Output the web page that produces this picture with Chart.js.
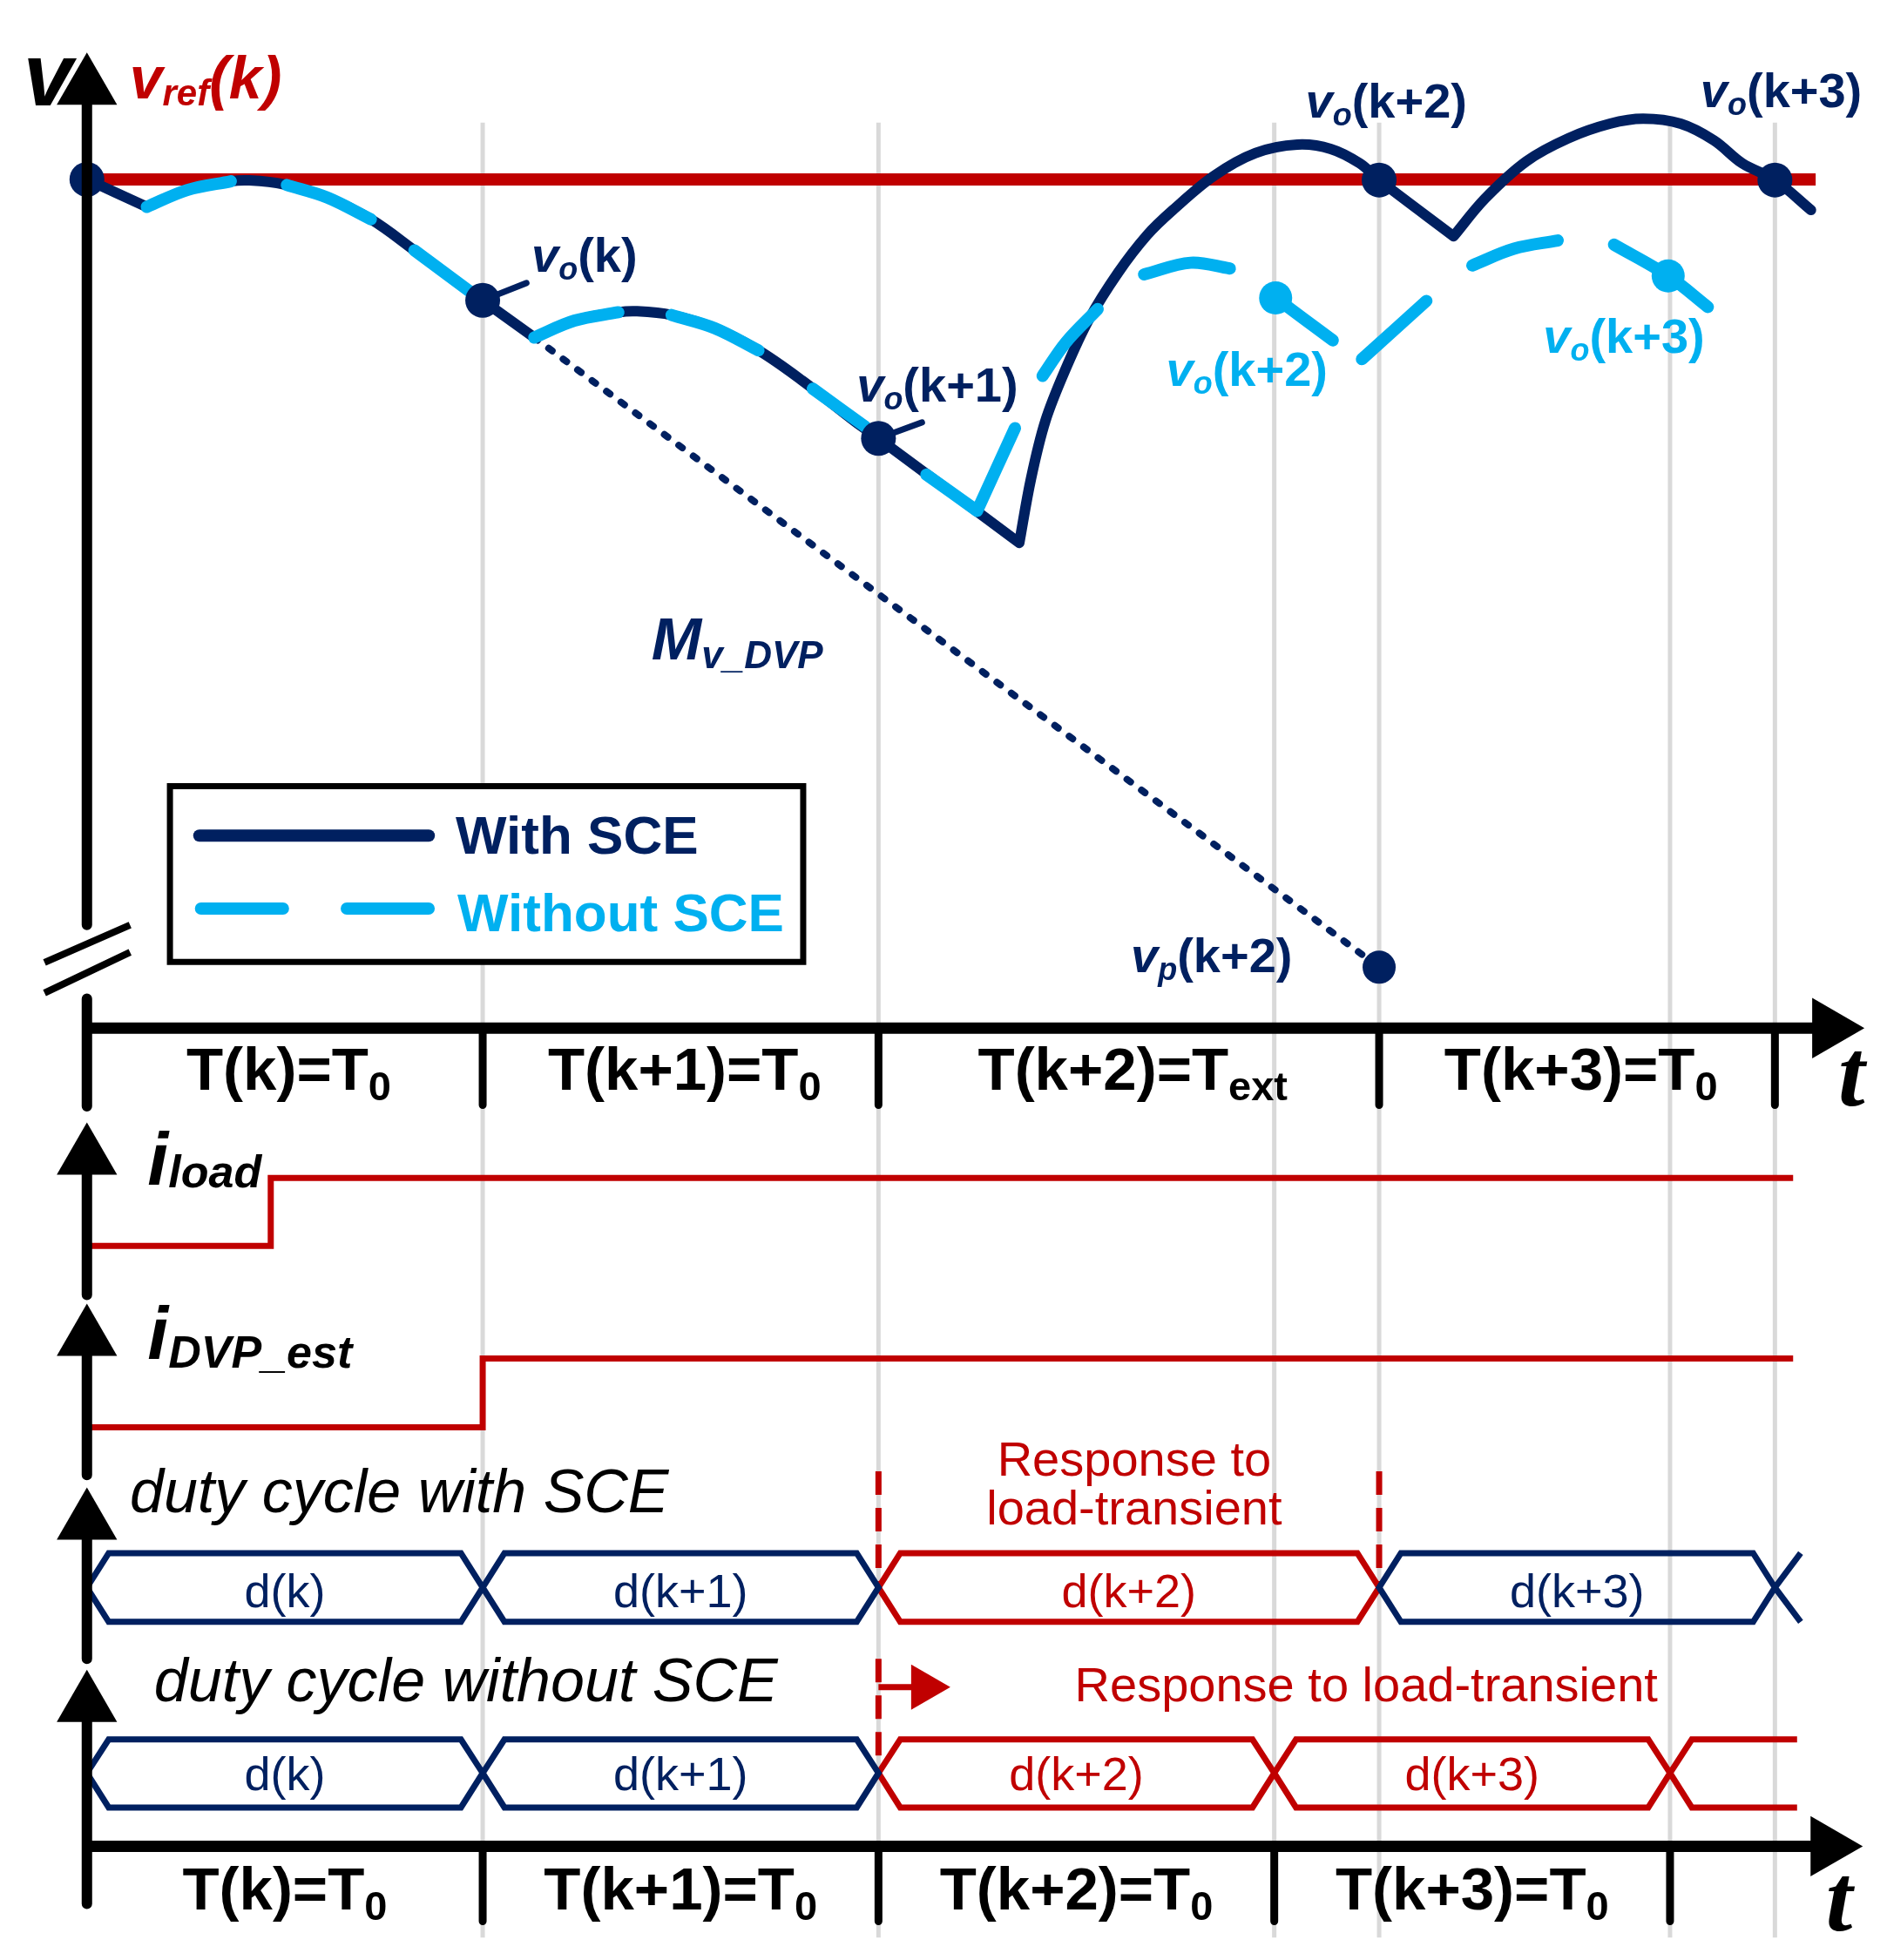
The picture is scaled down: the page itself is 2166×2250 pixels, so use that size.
<!DOCTYPE html>
<html><head><meta charset="utf-8">
<script src="https://cdn.jsdelivr.net/npm/chart.js@4.4.0/dist/chart.umd.min.js"></script>
<style>html,body{margin:0;padding:0;background:#fff}canvas{display:block}</style>
</head><body>
<canvas id="c" width="2166" height="2250"></canvas>
<script>
// ===== time (x, in units of T0) and layout rows (y, 0 = top, 1568 = bottom) =====
const periodTop    = [0, 1, 2, 3.265, 4.265];        // T(k)=T0, T(k+1)=T0, T(k+2)=Text, T(k+3)=T0
const periodBottom = [0, 1, 2, 3, 4];                // all periods T0
const gridT        = [1, 2, 3, 3.265, 4, 4.265];
const topLabels    = ['T(k)=T', 'T(k+1)=T', 'T(k+2)=T', 'T(k+3)=T'];
const topSubs      = ['0', '0', 'ext', '0'];
const bottomLabels = ['T(k)=T', 'T(k+1)=T', 'T(k+2)=T', 'T(k+3)=T'];
const bottomSubs   = ['0', '0', '0', '0'];

// ----- output voltage -----
const vrefRow = 143.5;
const vrefT = [0, 4.368];
const withSceT = [0, 0.1513, 0.1513, 0.2537, 0.3637, 0.4107, 0.4973, 0.6073, 0.7175, 0.8275, 0.9653, 1.0,
  1.1302, 1.1302, 1.2322, 1.3428, 1.3902, 1.4771, 1.5861, 1.6967, 1.8073, 1.9416, 2.0,
  2.3558, 2.3558, 2.3852, 2.4218, 2.4733, 2.5318, 2.6051, 2.6787, 2.7441, 2.8477, 2.9530, 3.0585, 3.1425, 3.2162, 3.265,
  3.4531, 3.4531, 3.5321, 3.6373, 3.7425, 3.8480, 3.9321, 4.0269, 4.1112, 4.1826, 4.265, 4.3561];
const withSceV = [143.5, 165.5, 165.5, 152, 145, 144.3, 147.5, 158, 175.4, 200.3, 232.6, 240.3,
  270, 270, 256.5, 249.8, 249, 252, 262.5, 280.3, 304.5, 337.5, 350.7,
  434.3, 434.3, 383.2, 336.7, 294.9, 255.5, 218.3, 188.1, 168, 140.7, 122.4, 115.7, 119.1, 130.7, 144,
  189, 189, 159, 129, 110.7, 99, 95, 99, 112.4, 130.7, 144, 168];
const withoutSceT = [0.1513, 0.2537, 0.3637, null, 0.5052, 0.6073, 0.7175, null, 0.8275, 0.9653, null,
  1.1302, 1.2322, 1.3428, null, 1.4771, 1.5861, 1.6967, null, 1.8341, 1.9668, null,
  2.1210, 2.2493, 2.2493, 2.3448, null, 2.4146, 2.4733, 2.5539, null, 2.6711, 2.7887, 2.8879, null,
  3.0035, 3.1479, null, 3.2215, 3.3845, null, 3.5005, 3.6057, 3.7163, null, 3.8585, 3.9953, 4.0956];
const withoutSceV = [165.5, 152, 145, null, 148, 158, 175.4, null, 200.3, 232.6, null,
  270, 256.5, 249.8, null, 252, 262.5, 280.3, null, 311, 341.4, null,
  379.7, 408.7, 408.7, 342.5, null, 300.7, 274, 247.3, null, 219.5, 210.2, 214.8, null,
  238.3, 272.3, null, 287.3, 240.7, null, 212.3, 199, 192.4, null, 195.7, 220.7, 245.6];
const withSamplesT = [0, 1, 2, 3.265, 4.265];
const withSamplesV = [143.5, 240.3, 350.7, 144, 144];
const withoutSamplesT = [3.0035, 3.9953];
const withoutSamplesV = [238.3, 220.7];
const mvDvpT = [1.1302, 3.265];
const mvDvpV = [270, 773.8];
const vpT = [3.265];
const vpV = [773.8];
const leaderT = [1.0, 1.1106, null, 2.0, 2.1100];
const leaderV = [240.3, 226.4, null, 350.7, 337.9];

// ----- currents -----
const iLoadT = [0, 0.4645, 0.4645, 4.311];
const iLoadV = [996.8, 996.8, 942.3, 942.3];
const iDvpT  = [0, 1, 1, 4.311];
const iDvpV  = [1141.8, 1141.8, 1086.8, 1086.8];

// ----- duty cycles -----
const dutyWithBounds = [0, 1, 2, 3.265, 4.265];
const dutyWithLabels = ['d(k)', 'd(k+1)', 'd(k+2)', 'd(k+3)'];
const dutyWithResp   = [false, false, true, false];
const dutyWithoutBounds = [0, 1, 2, 3, 4];
const dutyWithoutLabels = ['d(k)', 'd(k+1)', 'd(k+2)', 'd(k+3)'];
const dutyWithoutResp   = [false, false, true, true];
const dutyWithNextEnd = 4.33;
const dutyWithoutNextEnd = 4.321;

// ===== styling =====
const NAVY = '#002060', LBLUE = '#00b0f0', RED = '#c00000', GRAY = '#d9d9d9', BLACK = '#000000';
const FAM = "'Liberation Sans', Arial, sans-serif";
const font = (style, size, fam) => `${style} ${size}px ${fam || FAM}`;
const SLANT = 0.055;
const WITH_TOP = 1242.5, WITH_MID = 1270, WITH_BOT = 1297.5;
const WO_TOP = 1391.5, WO_MID = 1418.5, WO_BOT = 1446;

// ===== helpers to build library data =====
function pts(ts, vs) {
  let last = 0;
  return ts.map((t, i) => {
    if (t === null || vs[i] === null) return { x: last, y: null };
    last = t; return { x: t, y: vs[i] };
  });
}
function segs(list) {
  const out = [];
  list.forEach((s, i) => { if (i) out.push({ x: s[0][0], y: null }); s.forEach(p => out.push({ x: p[0], y: p[1] })); });
  return out;
}
function hex(a, b, top, mid, bot) {
  const m = (a + b) / 2;
  return [[m, top], [b - SLANT, top], [b, mid], [b - SLANT, bot], [a + SLANT, bot], [a, mid], [a + SLANT, top], [m, top]];
}
function hexSet(bounds, resp, want, top, mid, bot) {
  const list = [];
  for (let i = 0; i < bounds.length - 1; i++) if (resp[i] === want) list.push(hex(bounds[i], bounds[i + 1], top, mid, bot));
  return list;
}
function line(data, color, width, order, extra) {
  return Object.assign({ type: 'line', data, borderColor: color, borderWidth: width, pointRadius: 0,
    fill: false, tension: 0, order, borderCapStyle: 'butt', borderJoinStyle: 'miter' }, extra || {});
}
function marks(data, color, radius, order, style, rot) {
  return { type: 'line', data, showLine: false, pointRadius: radius, pointBackgroundColor: color,
    pointBorderWidth: 0, pointStyle: style || 'circle', pointRotation: rot || 0, order };
}

const gridSegs = gridT.map(t => [[t, 98], [t, 1550]]);
const axisSegs = [[[0, 70], [0, 740]], [[0, 799], [0, 885]], [[0, 910], [0, 1036]], [[0, 1055], [0, 1180]],
  [[0, 1200], [0, 1327]], [[0, 1345], [0, 1523]]];
const breakSegs = [[[-0.1071, 770], [0.109, 740]], [[-0.1071, 794.3], [0.109, 761.8]]];
const timeSegs = [[[0, 822.5], [4.40, 822.5]], [[0, 1477], [4.399, 1477]]];
const tickSegs = periodTop.slice(1).map(t => [[t, 822.5], [t, 884]])
  .concat(periodBottom.slice(1).map(t => [[t, 1477], [t, 1537]]));
const upArrowRows = [69.9, 925.9, 1070.7, 1217.9, 1363.6];
const upArrows = upArrowRows.map(r => ({ x: 0, y: r }));
const rightArrows = [{ x: 4.4032, y: 822.5 }, { x: 4.3990, y: 1477 }];

const navyHex = hexSet(dutyWithBounds, dutyWithResp, false, WITH_TOP, WITH_MID, WITH_BOT)
  .concat(hexSet(dutyWithoutBounds, dutyWithoutResp, false, WO_TOP, WO_MID, WO_BOT));
navyHex.push([[dutyWithNextEnd, WITH_TOP], [dutyWithBounds[4], WITH_MID], [dutyWithNextEnd, WITH_BOT]]);
const redHex = hexSet(dutyWithBounds, dutyWithResp, true, WITH_TOP, WITH_MID, WITH_BOT)
  .concat(hexSet(dutyWithoutBounds, dutyWithoutResp, true, WO_TOP, WO_MID, WO_BOT));
const wb = dutyWithoutBounds[4];
redHex.push([[dutyWithoutNextEnd, WO_TOP], [wb + SLANT, WO_TOP], [wb, WO_MID], [wb + SLANT, WO_BOT], [dutyWithoutNextEnd, WO_BOT]]);
const redDashSegs = [[[2, 1177], [2, 1268]], [[3.265, 1177], [3.265, 1268]], [[2, 1327], [2, 1406]]];

const LEG_L = 0.2098, LEG_R = 1.8098, LEG_T = 629, LEG_B = 769.6;

const datasets = [
  line(segs(gridSegs), GRAY, 5, 60),
  line([{ x: LEG_L, y: LEG_T }, { x: LEG_R, y: LEG_T }], 'rgba(0,0,0,0)', 0, 55, { fill: { value: LEG_B }, backgroundColor: '#ffffff' }),
  line([{ x: (LEG_L + LEG_R) / 2, y: LEG_T }, { x: LEG_R, y: LEG_T }, { x: LEG_R, y: LEG_B }, { x: LEG_L, y: LEG_B }, { x: LEG_L, y: LEG_T }, { x: (LEG_L + LEG_R) / 2, y: LEG_T }], BLACK, 7, 54),
  line(pts(vrefT, [vrefRow, vrefRow]), RED, 14, 45),
  line(pts(mvDvpT, mvDvpV), NAVY, 8, 44, { borderDash: [5, 15.7], borderCapStyle: 'round' }),
  line(pts(iLoadT, iLoadV), RED, 7, 40),
  line(pts(iDvpT, iDvpV), RED, 7, 40),
  line(segs(navyHex), NAVY, 7, 40),
  line(segs(redHex), RED, 7, 40),
  line(segs(redDashSegs), RED, 7, 40, { borderDash: [27, 15] }),
  line([{ x: 2, y: 1349.7 }, { x: 2.09, y: 1349.7 }], RED, 7, 40),
  marks([{ x: 2.1156, y: 1349.7 }], RED, 30, 39, 'triangle', 90),
  line(pts(withSceT, withSceV), NAVY, 12, 30, { tension: 0.35, borderJoinStyle: 'round', borderCapStyle: 'round' }),
  line(pts(withoutSceT, withoutSceV), LBLUE, 14, 29, { tension: 0.35, borderJoinStyle: 'round', borderCapStyle: 'round' }),
  line(pts(leaderT, leaderV), NAVY, 7, 28, { borderCapStyle: 'round' }),
  marks(pts(withSamplesT, withSamplesV), NAVY, 20, 20),
  marks(pts(withoutSamplesT, withoutSamplesV), LBLUE, 19, 20),
  marks(pts(vpT, vpV), NAVY, 19, 20),
  line([{ x: 0.2840, y: 668.5 }, { x: 0.8638, y: 668.5 }], NAVY, 14, 20, { borderCapStyle: 'round' }),
  line([{ x: 0.2882, y: 726.9 }, { x: 0.4954, y: 726.9 }, { x: 0.4954, y: null }, { x: 0.6566, y: 726.9 }, { x: 0.8635, y: 726.9 }], LBLUE, 14, 20, { borderCapStyle: 'round' }),
  line(segs(axisSegs), BLACK, 12, 10, { borderCapStyle: 'round' }),
  line(segs(breakSegs), BLACK, 8, 10),
  line(segs(timeSegs), BLACK, 13, 10),
  line(segs(tickSegs), BLACK, 9, 10, { borderCapStyle: 'round' }),
  marks(upArrows, BLACK, 40, 5, 'triangle', 0),
  marks(rightArrows, BLACK, 40, 5, 'triangle', 90)
];

// ===== text (drawn at scale coordinates) =====
function vo(t, row, color, sub, arg) {
  return { t, row, runs: [['v', font('italic bold', 56), color, 0], [sub, font('italic bold', 36), color, 9], [arg, font('bold', 56), color, 0]] };
}
const labels = [
  { t: -0.1608, row: 84.6, runs: [['v', font('italic bold', 102), BLACK, 0]] },
  { t: 0.1077, row: 78.6, runs: [['v', font('italic bold', 68), RED, 0], ['ref', font('italic bold', 42), RED, 8], ['(k)', font('italic bold', 68), RED, 0]] },
  vo(1.1232, 217.7, NAVY, 'o', '(k)'),
  vo(1.9447, 321.6, NAVY, 'o', '(k+1)'),
  vo(3.0790, 94, NAVY, 'o', '(k+2)'),
  vo(4.0768, 86, NAVY, 'o', '(k+3)'),
  vo(2.7267, 309, LBLUE, 'o', '(k+2)'),
  vo(3.6793, 282.4, LBLUE, 'o', '(k+3)'),
  vo(2.6376, 777.9, NAVY, 'p', '(k+2)'),
  { t: 1.4265, row: 527.3, runs: [['M', font('italic bold', 69), NAVY, 0], ['v_DVP', font('italic bold', 44), NAVY, 10]] },
  { t: 0.9318, row: 682.7, runs: [['With SCE', font('bold', 62), NAVY, 0]] },
  { t: 0.9362, row: 744.7, runs: [['Without SCE', font('bold', 62), LBLUE, 0]] },
  { t: 4.4250, row: 884.4, runs: [['t', font('italic bold', 110, "'Liberation Serif', serif"), BLACK, 0]] },
  { t: 4.3934, row: 1544, runs: [['t', font('italic bold', 110, "'Liberation Serif', serif"), BLACK, 0]] },
  { t: 0.1532, row: 947.8, runs: [['i', font('italic bold', 86), BLACK, 0], ['load', font('italic bold', 52), BLACK, 3]] },
  { t: 0.1532, row: 1086.8, runs: [['i', font('italic bold', 86), BLACK, 0], ['DVP_est', font('italic bold', 52), BLACK, 10]] },
  { t: 0.1084, row: 1210, runs: [['duty cycle with SCE', font('italic', 70), BLACK, 0]] },
  { t: 0.1697, row: 1361, runs: [['duty cycle without SCE', font('italic', 70), BLACK, 0]] },
  { t: 2.6461, row: 1180.2, align: 'center', runs: [['Response to', font('normal', 56), RED, 0]] },
  { t: 2.6461, row: 1219.7, align: 'center', runs: [['load-transient', font('normal', 56), RED, 0]] },
  { t: 2.4958, row: 1361, runs: [['Response to load-transient', font('normal', 56), RED, 0]] }
];
topLabels.forEach((s, i) => labels.push({ t: (periodTop[i] + periodTop[i + 1]) / 2 + 0.01, row: 872, align: 'center',
  runs: [[s, font('bold', 69), BLACK, 0], [topSubs[i], font('bold', 47), BLACK, 12]] }));
bottomLabels.forEach((s, i) => labels.push({ t: (periodBottom[i] + periodBottom[i + 1]) / 2, row: 1527.5, align: 'center',
  runs: [[s, font('bold', 69), BLACK, 0], [bottomSubs[i], font('bold', 47), BLACK, 12]] }));
dutyWithLabels.forEach((s, i) => labels.push({ t: (dutyWithBounds[i] + dutyWithBounds[i + 1]) / 2, row: 1285.5, align: 'center',
  runs: [[s, font('normal', 54), dutyWithResp[i] ? RED : NAVY, 0]] }));
dutyWithoutLabels.forEach((s, i) => labels.push({ t: (dutyWithoutBounds[i] + dutyWithoutBounds[i + 1]) / 2, row: 1432.4, align: 'center',
  runs: [[s, font('normal', 54), dutyWithoutResp[i] ? RED : NAVY, 0]] }));

const textPlugin = {
  id: 'diagramText',
  afterDatasetsDraw(chart) {
    const ctx = chart.ctx, sx = chart.scales.x, sy = chart.scales.y;
    ctx.save();
    ctx.textBaseline = 'alphabetic';
    ctx.textAlign = 'left';
    for (const lab of labels) {
      let x = sx.getPixelForValue(lab.t);
      const y = sy.getPixelForValue(lab.row);
      if (lab.align === 'center') {
        let w = 0;
        for (const r of lab.runs) { ctx.font = r[1]; w += ctx.measureText(r[0]).width; }
        x -= w / 2;
      }
      for (const r of lab.runs) {
        ctx.font = r[1]; ctx.fillStyle = r[2];
        ctx.fillText(r[0], x, y + r[3]);
        x += ctx.measureText(r[0]).width;
      }
    }
    ctx.restore();
  }
};

new Chart(document.getElementById('c'), {
  type: 'line',
  data: { datasets },
  options: {
    responsive: false,
    devicePixelRatio: 1,
    animation: false,
    events: [],
    layout: { padding: 0, autoPadding: false },
    elements: { point: { radius: 0 } },
    plugins: { legend: { display: false }, tooltip: { enabled: false }, title: { display: false } },
    scales: {
      x: { type: 'linear', min: -0.2196, max: 4.5482, display: false },
      y: { type: 'linear', min: 0, max: 1568, reverse: true, display: false }
    }
  },
  plugins: [textPlugin]
});
</script>
</body></html>
